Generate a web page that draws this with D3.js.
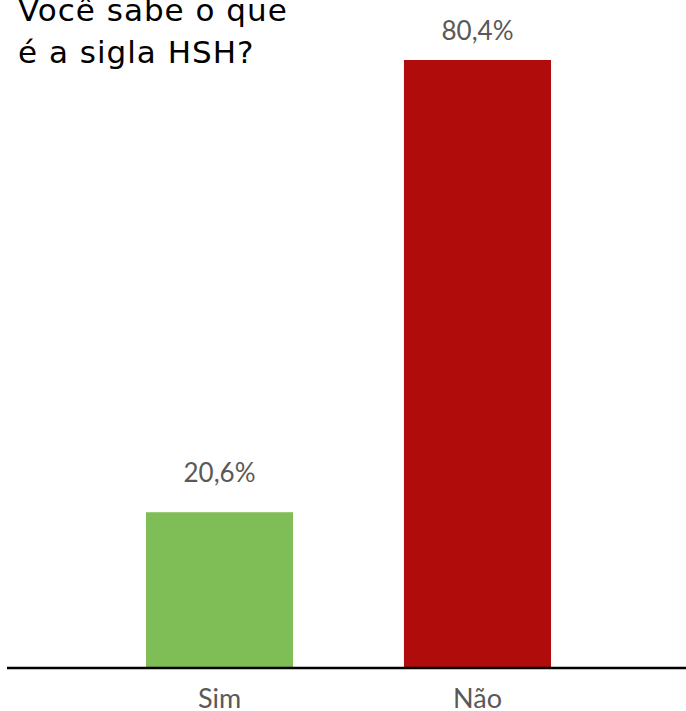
<!DOCTYPE html>
<html>
<head>
<meta charset="utf-8">
<script src="https://cdn.jsdelivr.net/npm/d3@7"></script>
<style>
  html, body { margin: 0; padding: 0; background: #fff; }
  svg { display: block; }
</style>
</head>
<body>
<svg id="chart" width="686" height="711"></svg>
<script>
// Survey answers
const categories = ["Sim", "Não"];
const values = [20.6, 80.4];
const valueLabels = ["20,6%", "80,4%"];
const titleLines = ["Você sabe o que", "é a sigla HSH?"];
const colors = ["#7FBE56", "#B00C0C"];

const W = 686, H = 711;
const baseline = 668;
const labelFont = "Lato, 'Open Sans', sans-serif";
const titleFont = "'DejaVu Sans', sans-serif";

const svg = d3.select("#chart");

const x = d3.scaleBand()
  .domain(categories)
  .range([17, 680])
  .paddingInner(0.43)
  .paddingOuter(0.5);

const y = d3.scaleLinear()
  .domain([0, 80.4])
  .range([baseline, 60]);

// Bars
svg.selectAll("rect.bar")
  .data(categories)
  .join("rect")
  .attr("class", "bar")
  .attr("x", d => x(d))
  .attr("width", x.bandwidth())
  .attr("y", (d, i) => y(values[i]))
  .attr("height", (d, i) => baseline - y(values[i]))
  .attr("fill", (d, i) => colors[i]);

// Value labels above bars
svg.selectAll("text.value")
  .data(categories)
  .join("text")
  .attr("class", "value")
  .attr("x", d => x(d) + x.bandwidth() / 2)
  .attr("y", (d, i) => Math.max(y(values[i]) - 30, 40))
  .attr("text-anchor", "middle")
  .attr("font-family", labelFont)
  .attr("font-size", 26)
  .attr("fill", "#595959")
  .text((d, i) => valueLabels[i]);

// Baseline axis
const axis = svg.append("g")
  .attr("transform", `translate(0,${baseline})`)
  .call(d3.axisBottom(x).tickSize(0).tickPadding(21));
axis.select(".domain").remove();
axis.append("line")
  .attr("x1", 7).attr("x2", W)
  .attr("y1", 0).attr("y2", 0)
  .attr("stroke", "#000").attr("stroke-width", 2.5);
axis.selectAll(".tick text")
  .attr("font-family", labelFont)
  .attr("font-size", 27)
  .attr("fill", "#595959");

// Title
svg.append("text")
  .attr("font-family", titleFont)
  .attr("font-size", 31)
  .attr("letter-spacing", 1)
  .attr("fill", "#000")
  .selectAll("tspan")
  .data(titleLines)
  .join("tspan")
  .attr("x", 18)
  .attr("y", (d, i) => 21 + i * 42)
  .text(d => d);
</script>
</body>
</html>
